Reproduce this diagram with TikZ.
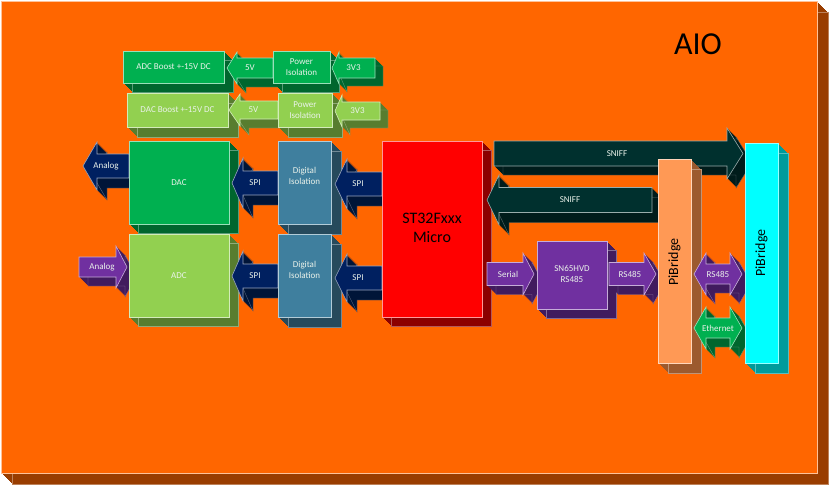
\documentclass[tikz,border=0pt]{standalone}
\usepackage{fontspec}
\setmainfont{Carlito}
\definecolor{bgF}{HTML}{FF6600}
\definecolor{bgD}{HTML}{993D00}
\definecolor{gF}{HTML}{00B050}
\definecolor{gD}{HTML}{00662E}
\definecolor{lgF}{HTML}{92D050}
\definecolor{lgD}{HTML}{587D2F}
\definecolor{stF}{HTML}{3F7F9E}
\definecolor{stD}{HTML}{264A5C}
\definecolor{nvF}{HTML}{002060}
\definecolor{nvD}{HTML}{001538}
\definecolor{puF}{HTML}{7030A0}
\definecolor{puD}{HTML}{411B5E}
\definecolor{tlF}{HTML}{00302E}
\definecolor{tlD}{HTML}{001C1B}
\definecolor{rdF}{HTML}{FF0000}
\definecolor{rdD}{HTML}{8C0000}
\definecolor{orF}{HTML}{FF9955}
\definecolor{orD}{HTML}{9C5A2E}
\definecolor{cyF}{HTML}{00FFFF}
\definecolor{cyD}{HTML}{009B9B}
\definecolor{txW}{HTML}{EAF2EA}

% rectangle path
\newcommand{\pRect}[4]{(#1,#2) rectangle (#3,#4)}
% left-pointing arrow: tip x, tail x, centre y, head length, body half, head half
\newcommand{\pArL}[6]{(#1,#3) -- (#1+#4,#3-#6) -- (#1+#4,#3-#5) -- (#2,#3-#5) -- (#2,#3+#5) -- (#1+#4,#3+#5) -- (#1+#4,#3+#6) -- cycle}
% right-pointing arrow: tail x, tip x, centre y, head length, body half, head half
\newcommand{\pArR}[6]{(#2,#3) -- (#2-#4,#3-#6) -- (#2-#4,#3-#5) -- (#1,#3-#5) -- (#1,#3+#5) -- (#2-#4,#3+#5) -- (#2-#4,#3+#6) -- cycle}
% double arrow: left tip x, right tip x, centre y, head length, body half, head half
\newcommand{\pArLR}[6]{(#1,#3) -- (#1+#4,#3-#6) -- (#1+#4,#3-#5) -- (#2-#4,#3-#5) -- (#2-#4,#3-#6) -- (#2,#3) -- (#2-#4,#3+#6) -- (#2-#4,#3+#5) -- (#1+#4,#3+#5) -- (#1+#4,#3+#6) -- cycle}
% extruded solid: face colour, dark colour, depth, path
\newcommand{\solid}[4]{%
  \foreach \k in {1,...,#3} {\fill[#2, shift={(\k,\k)}] #4;}
  \draw[white!35!#2, line width=0.4pt, shift={(#3,#3)}] #4;
  \fill[#1, draw=white!60!#1, line width=0.6pt] #4;
}

\tikzset{
  lbl/.style={text=txW, font=\fontsize{9}{11}\selectfont, align=center, inner sep=0pt},
  big/.style={text=black, font=\fontsize{16}{19}\selectfont, align=center, inner sep=0pt},
  pib/.style={text=black, font=\fontsize{14}{15}\selectfont, rotate=90, inner sep=0pt}
}

\begin{document}
\begin{tikzpicture}[x=1pt, y=-1pt]
\useasboundingbox (0,0) rectangle (829,485);

% background board
\solid{bgF}{bgD}{11}{\pRect{1}{1}{817}{473}}
\node[font=\fontsize{32}{34}\selectfont, text=black, inner sep=0pt] (aio) at (698,44) {AIO};

% ---- row 1: ADC boost supply ----
\solid{gF}{gD}{9}{\pRect{123}{51}{224}{83}}
\node[lbl] (adcboost) at (173.5,67) {ADC Boost +-15V DC};
\solid{gF}{gD}{9}{\pArL{227}{273}{68}{10}{10}{16}}
\node[lbl] (v5a) at (250,68) {5V};
\solid{gF}{gD}{9}{\pRect{273}{51}{330}{83}}
\node[lbl] (pisoa) at (301.5,67.5) {Power\\Isolation};
\solid{gF}{gD}{8}{\pArL{332}{375}{68}{7}{10}{16}}
\node[lbl] (v33a) at (353.5,68) {3V3};

% ---- row 2: DAC boost supply ----
\solid{lgF}{lgD}{10}{\pRect{127}{93}{228}{127}}
\node[lbl] (dacboost) at (177.5,110) {DAC Boost +-15V DC};
\solid{lgF}{lgD}{9}{\pArL{229}{278}{110}{11}{9}{16}}
\node[lbl] (v5b) at (253.5,110) {5V};
\solid{lgF}{lgD}{10}{\pRect{278}{93}{332}{127}}
\node[lbl] (pisob) at (305,110) {Power\\Isolation};
\solid{lgF}{lgD}{8}{\pArL{335}{380}{111}{7}{9}{16}}
\node[lbl] (v33b) at (357.5,111) {3V3};

% ---- DAC row ----
\solid{nvF}{nvD}{10}{\pArL{83}{129}{166}{14}{12}{24}}
\node[lbl] (analogdac) at (106,166) {Analog};
\solid{gF}{gD}{9}{\pRect{129}{141}{229}{224}}
\node[lbl] (dac) at (179,182.5) {DAC};
\solid{nvF}{nvD}{10}{\pArL{232}{278}{183}{11}{12}{25}}
\node[lbl] (spi1) at (255,183) {SPI};
\solid{stF}{stD}{10}{\pRect{278}{141}{331}{224}}
\node[lbl] (diso1) at (304.5,176) {Digital\\Isolation};
\solid{nvF}{nvD}{10}{\pArL{335}{382}{184}{12}{12}{25}}
\node[lbl] (spi2) at (358,184) {SPI};

% ---- ADC row ----
\solid{puF}{puD}{9}{\pArR{79}{127}{267}{11}{10}{21}}
\node[lbl] (analogadc) at (102,267) {Analog};
\solid{lgF}{lgD}{9}{\pRect{129}{234}{229}{317}}
\node[lbl] (adc) at (179,275.5) {ADC};
\solid{nvF}{nvD}{10}{\pArL{232}{278}{276}{11}{12}{25}}
\node[lbl] (spi3) at (255,276) {SPI};
\solid{stF}{stD}{10}{\pRect{278}{234}{331}{317}}
\node[lbl] (diso2) at (304.5,270) {Digital\\Isolation};
\solid{nvF}{nvD}{10}{\pArL{335}{382}{278}{12}{12}{24}}
\node[lbl] (spi4) at (358,278) {SPI};

% ---- micro ----
\solid{rdF}{rdD}{9}{\pRect{382}{141}{482}{317}}
\node[big] (micro) at (432,228) {ST32Fxxx\\Micro};

% ---- sniff arrows ----
\solid{tlF}{tlD}{9}{\pArR{494}{743}{153.5}{16}{12.5}{25.5}}
\node[lbl] (sniff1) at (617,153.5) {SNIFF};
\solid{tlF}{tlD}{10}{\pArL{487}{652}{200}{12}{12.5}{25}}
\node[lbl] (sniff2) at (570,200) {SNIFF};

% ---- serial path ----
\solid{puF}{puD}{9}{\pArR{487}{534}{274}{11}{11.5}{21}}
\node[lbl] (serial) at (508,274) {Serial};
\solid{puF}{puD}{9}{\pRect{537}{241}{607}{309}}
\node[lbl] (sn65) at (572,274) {SN65HVD\\RS485};
\solid{puF}{puD}{9}{\pArR{609}{656}{274}{12}{11.5}{21}}
\node[lbl] (rs485a) at (630,274) {RS485};

% ---- PiBridge (orange) ----
\solid{orF}{orD}{10}{\pRect{658}{159}{691}{363}}
\node[pib] (pib1) at (674.5,262) {PiBridge};

% ---- double arrows ----
\solid{puF}{puD}{9}{\pArLR{694}{742}{274}{12}{10}{21}}
\node[lbl] (rs485b) at (718,274) {RS485};
\solid{gF}{gD}{9}{\pArLR{694}{742}{328}{12}{10}{21}}
\node[lbl] (eth) at (718,328) {Ethernet};

% ---- PiBridge (cyan) ----
\solid{cyF}{cyD}{10}{\pRect{745}{143}{778}{363}}
\node[pib] (pib2) at (761.5,253) {PiBridge};
\end{tikzpicture}
\end{document}
